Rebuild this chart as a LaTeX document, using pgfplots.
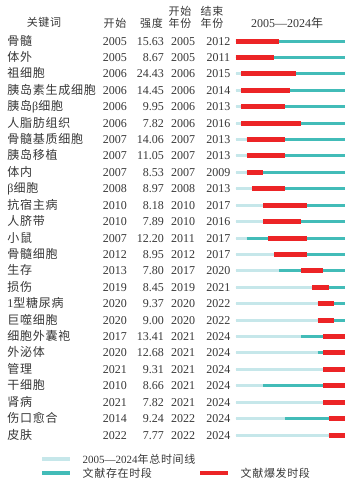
\documentclass[border=0pt]{standalone}
\usepackage{pgfplots}
\pgfplotsset{compat=1.18}
\usepackage{pgfplotstable}
\usepackage{fontspec}
\setmainfont{Liberation Serif}
\newfontfamily\cjk[LetterSpace=6]{Noto Sans CJK SC}
\definecolor{lightc}{RGB}{198,231,234}
\definecolor{tealc}{RGB}{66,188,184}
\definecolor{redc}{RGB}{236,36,38}
\definecolor{txt}{RGB}{55,55,55}

% row, first year, strength, burst begin, burst end
\pgfplotstableread{
row first strength bstart bend
1 2005 15.63 2005 2012
2 2005 8.67 2005 2011
3 2006 24.43 2006 2015
4 2006 14.45 2006 2014
5 2006 9.95 2006 2013
6 2006 7.82 2006 2016
7 2007 14.06 2007 2013
8 2007 11.05 2007 2013
9 2007 8.53 2007 2009
10 2008 8.97 2008 2013
11 2010 8.18 2010 2017
12 2010 7.89 2010 2016
13 2007 12.20 2011 2017
14 2012 8.95 2012 2017
15 2013 7.80 2017 2020
16 2019 8.45 2019 2021
17 2020 9.37 2020 2022
18 2020 9.00 2020 2022
19 2017 13.41 2021 2024
20 2020 12.68 2021 2024
21 2021 9.31 2021 2024
22 2010 8.66 2021 2024
23 2021 7.82 2021 2024
24 2014 9.24 2022 2024
25 2022 7.77 2022 2024
}\data

\begin{document}
\begin{tikzpicture}[x=1pt,y=1pt]
\useasboundingbox (0,0) rectangle (355,-485);
\begin{axis}[
  at={(235.7pt,-32.8pt)}, anchor=north west,
  scale only axis, width=109.3pt, height=410.4pt,
  xmin=2005, xmax=2025, ymin=0.5, ymax=25.5, y dir=reverse,
  clip=false,
  axis line style={draw=none}, major tick length=0pt,
  xtick=\empty, ytick={1,...,25},
  yticklabels={{\cjk 骨髓},{\cjk 体外},{\cjk 祖细胞},{\cjk 胰岛素生成细胞},{\cjk 胰岛}β{\cjk 细胞},{\cjk 人脂肪组织},{\cjk 骨髓基质细胞},{\cjk 胰岛移植},{\cjk 体内},β{\cjk 细胞},{\cjk 抗宿主病},{\cjk 人脐带},{\cjk 小鼠},{\cjk 骨髓细胞},{\cjk 生存},{\cjk 损伤},1{\cjk 型糖尿病},{\cjk 巨噬细胞},{\cjk 细胞外囊袍},{\cjk 外泌体},{\cjk 管理},{\cjk 干细胞},{\cjk 肾病},{\cjk 伤口愈合},{\cjk 皮肤}},
  yticklabel style={anchor=west, inner sep=0pt, xshift=-228.4pt, text height=8pt, text depth=0pt, font=\fontsize{12}{14}\selectfont, text=txt},
  legend style={draw=none, fill=none, at={(-1.7905,-0.02875)}, anchor=north west,
    inner sep=0pt, row sep=6pt, column sep=0pt,
    nodes={inner sep=0pt, text height=8pt, text depth=0pt, text=txt, font=\fontsize{11}{13}\selectfont},
    /tikz/every odd column/.style={column sep=10pt},
    /tikz/column 2/.style={column sep=115pt}},
  legend cell align=left, transpose legend, legend columns=2,
  barstyle/.style={only marks, mark=*, mark size=0pt, mark options={draw=none, fill=none}, forget plot,
    error bars/x dir=plus, error bars/x explicit, error bars/error mark=none},
]
% full time line
\addplot[barstyle, error bars/error bar style={line width=3pt, color=lightc}]
  table[x expr=2005, y=row, x error expr=20]{\data};
% existence period
\addplot[barstyle, error bars/error bar style={line width=3pt, color=tealc}]
  table[x=first, y=row, x error expr=2025-\thisrow{first}]{\data};
% burst period
\addplot[barstyle, error bars/error bar style={line width=5pt, color=redc}]
  table[x=bstart, y=row, x error expr=\thisrow{bend}+1-\thisrow{bstart}]{\data};
% text columns
\addplot[only marks, mark=none, forget plot, point meta=explicit symbolic, nodes near coords,
  nodes near coords style={anchor=center, inner sep=0pt, text height=8pt, text depth=0pt, font=\fontsize{12}{14}\selectfont, text=txt}]
  table[x expr=1982.91, y=row, meta=first]{\data};
\addplot[only marks, mark=none, forget plot, point meta=explicit symbolic, nodes near coords,
  nodes near coords style={anchor=east, inner sep=0pt, text height=8pt, text depth=0pt, font=\fontsize{12}{14}\selectfont, text=txt}]
  table[x expr=1991.88, y=row, meta=strength]{\data};
\addplot[only marks, mark=none, forget plot, point meta=explicit symbolic, nodes near coords,
  nodes near coords style={anchor=center, inner sep=0pt, text height=8pt, text depth=0pt, font=\fontsize{12}{14}\selectfont, text=txt}]
  table[x expr=1995.36, y=row, meta=bstart]{\data};
\addplot[only marks, mark=none, forget plot, point meta=explicit symbolic, nodes near coords,
  nodes near coords style={anchor=center, inner sep=0pt, text height=8pt, text depth=0pt, font=\fontsize{12}{14}\selectfont, text=txt}]
  table[x expr=2001.82, y=row, meta=bend]{\data};
% legend
\addlegendimage{legend image code/.code={\draw[lightc, line width=4pt] (0pt,0pt) -- (28pt,0pt);}}
\addlegendentry{\rlap{2005—2024{\cjk 年总时间线}}}
\addlegendimage{legend image code/.code={\draw[tealc, line width=4pt] (0pt,0pt) -- (28pt,0pt);}}
\addlegendentry{\rlap{\cjk 文献存在时段}}
\addlegendimage{empty legend}
\addlegendentry{}
\addlegendimage{legend image code/.code={\draw[redc, line width=4pt] (0pt,0pt) -- (28pt,0pt);}}
\addlegendentry{\rlap{\cjk 文献爆发时段}}
\end{axis}
\begin{scope}[every node/.style={inner sep=0pt, text height=8pt, text depth=0pt, text=txt, font=\fontsize{11}{13}\selectfont\cjk}]
\node at (44,-22.7) {关键词};
\node at (115,-23) {开始};
\node at (151.5,-23) {强度};
\node at (180,-11) {开始};
\node at (180,-23) {年份};
\node at (212,-11) {结束};
\node at (212,-23) {年份};
\end{scope}
\node[inner sep=0pt, text height=8pt, text depth=0pt, text=txt, font=\fontsize{12}{14}\selectfont] at (287,-23.3) {2005—2024{\cjk 年}};
\end{tikzpicture}
\end{document}
